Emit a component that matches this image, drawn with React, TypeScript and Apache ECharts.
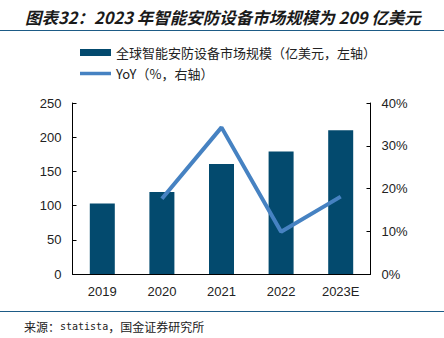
import React, { useEffect, useRef } from "react";
import * as echarts from "echarts";

const categories = ["2019", "2020", "2021", "2022", "2023E"];
const marketSize = [103, 120, 161, 179, 210];
const yoy = [null, 17.6, 34.3, 9.9, 18.1];
const leftTicks = { min: 0, max: 250, interval: 50 };
const rightTicks = { min: 0, max: 40, interval: 10 };
const barName = "全球智能安防设备市场规模（亿美元，左轴）";
const lineName = "YoY（%，右轴）";
const titleText = "图表32：2023 年智能安防设备市场规模为 209 亿美元";
const sourceParts = ["来源：", "statista", "，国金证券研究所"];

export default function App() {
  const ref = useRef<HTMLDivElement>(null);
  useEffect(() => {
    document.body.style.margin = "0";
    const chart = echarts.init(ref.current!, null, { renderer: "svg" });
    const font = "'Liberation Sans', Arial, 'Noto Sans CJK SC', sans-serif";
    chart.setOption({
      animation: false,
      backgroundColor: "#ffffff",
      textStyle: { fontFamily: font },
      grid: { left: 72.5, right: 73.5, top: 103, bottom: 64, containLabel: false },
      legend: {
        orient: "vertical",
        left: 75,
        top: 41,
        itemWidth: 31,
        itemHeight: 7,
        itemGap: 8,
        textStyle: { fontSize: 13, color: "#222", fontFamily: "'Noto Sans CJK SC', sans-serif" },
        data: [
          { name: barName, icon: "rect" },
          { name: lineName, icon: "path://M0,0L31,0L31,3.5L0,3.5Z" },
        ],
      },
      xAxis: {
        type: "category",
        data: categories,
        axisLine: { lineStyle: { color: "#000", width: 1 } },
        axisTick: { inside: true, length: 4, lineStyle: { color: "#000" } },
        axisLabel: { color: "#222", fontSize: 13, margin: 11 },
      },
      yAxis: [
        {
          type: "value",
          min: leftTicks.min,
          max: leftTicks.max,
          interval: leftTicks.interval,
          splitLine: { show: false },
          axisLine: { show: true, lineStyle: { color: "#000" } },
          axisTick: { show: true, inside: true, length: 4, lineStyle: { color: "#000" } },
          axisLabel: { color: "#222", fontSize: 13, margin: 11 },
        },
        {
          type: "value",
          position: "right",
          min: rightTicks.min,
          max: rightTicks.max,
          interval: rightTicks.interval,
          splitLine: { show: false },
          axisLine: { show: true, lineStyle: { color: "#000" } },
          axisTick: { show: true, inside: true, length: 4, lineStyle: { color: "#000" } },
          axisLabel: { color: "#222", fontSize: 13, margin: 11, formatter: "{value}%" },
        },
      ],
      series: [
        {
          name: barName,
          type: "bar",
          data: marketSize,
          barWidth: 25,
          itemStyle: { color: "#034a6e" },
        },
        {
          name: lineName,
          type: "line",
          yAxisIndex: 1,
          data: yoy,
          symbol: "none",
          showSymbol: false,
          connectNulls: false,
          lineStyle: { color: "#4682c2", width: 4 },
          itemStyle: { color: "#4682c2" },
        },
      ],
      graphic: [
        {
          type: "text",
          left: 25,
          top: 8.5,
          style: {
            text: titleText,
            fontSize: 16.5,
            fontWeight: "bold",
            fontStyle: "italic",
            fill: "#1a1a1a",
            fontFamily: "'Noto Sans CJK SC', sans-serif",
          },
        },
        {
          type: "line",
          shape: { x1: 0, y1: 30.5, x2: 444, y2: 30.5 },
          style: { stroke: "#1d5b86", lineWidth: 1 },
        },
        {
          type: "line",
          shape: { x1: 0, y1: 311.5, x2: 444, y2: 311.5 },
          style: { stroke: "#1d5b86", lineWidth: 1 },
        },
        {
          type: "text",
          left: 24,
          top: 320,
          style: {
            text: `{c|${sourceParts[0]}}{m|${sourceParts[1]}}{c|${sourceParts[2]}}`,
            rich: {
              c: { fontSize: 12, fill: "#222", fontFamily: "'Noto Sans CJK SC', sans-serif" },
              m: { fontSize: 10, fill: "#222", fontFamily: "'DejaVu Sans Mono', monospace" },
            },
          },
        },
      ],
    });
    return () => chart.dispose();
  }, []);
  return <div ref={ref} style={{ position: "absolute", left: 0, top: 0, width: 444, height: 338 }} />;
}
